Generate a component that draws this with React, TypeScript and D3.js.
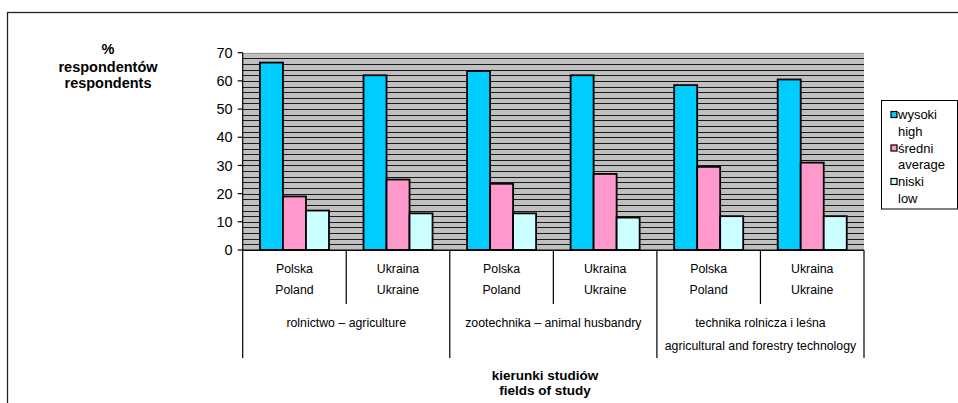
import React from "react";
import * as d3 from "d3";

// categories (country under each field of study)
const countryPl = ["Polska", "Ukraina", "Polska", "Ukraina", "Polska", "Ukraina"];
const countryEn = ["Poland", "Ukraine", "Poland", "Ukraine", "Poland", "Ukraine"];
const fieldPl = ["rolnictwo – agriculture", "zootechnika – animal husbandry", "technika rolnicza i leśna"];
const fieldEn = ["", "", "agricultural and forestry technology"];

// series values (%)
const wysoki = [66.5, 62, 63.5, 62, 58.5, 60.5];
const sredni = [19, 25, 23.5, 27, 29.5, 31];
const niski = [14, 13, 13, 11.5, 12, 12];

const seriesKeys = ["wysoki", "sredni", "niski"];
const seriesLabels = [["wysoki", "high"], ["średni", "average"], ["niski", "low"]];
const seriesColors = ["#00ccff", "#ff99cc", "#ccffff"];
const yTicks = [0, 10, 20, 30, 40, 50, 60, 70];

const FONT = "'Liberation Sans', Arial, Helvetica, sans-serif";

export default function App() {
  const W = 958, H = 403;
  const plot = { left: 242.7, right: 864, top: 52.7, bottom: 250 };

  const catIdx = d3.range(countryPl.length);
  const x = d3.scaleBand<number>().domain(catIdx).range([plot.left, plot.right]).padding(0);
  const xs = d3.scaleBand<string>().domain(seriesKeys).range([0, x.bandwidth()])
    .paddingInner(0).paddingOuter(0.75);
  const y = d3.scaleLinear().domain([0, 70]).range([plot.bottom, plot.top]);

  const values = [wysoki, sredni, niski];
  const gridVals = d3.range(0, 71, 2);
  const groupEdges = d3.range(0, countryPl.length + 1, 2).map(i =>
    i < countryPl.length ? x(i)! : plot.right);

  return (
    <svg width={W} height={H} style={{ position: "absolute", left: 0, top: 0 }}
      fontFamily={FONT}>
      <rect x={0} y={0} width={W} height={H} fill="#fff" />
      {/* outer frame */}
      <rect x={7.5} y={12.5} width={W + 10} height={H + 10} fill="none" stroke="#222" strokeWidth={1.3} />

      {/* plot background + grid */}
      <rect x={plot.left} y={plot.top} width={plot.right - plot.left} height={plot.bottom - plot.top} fill="#c0c0c0" />
      {gridVals.map(v => (
        <line key={v} x1={plot.left} x2={plot.right} y1={Math.round(y(v)) + 0.5} y2={Math.round(y(v)) + 0.5}
          stroke={v === 70 ? "#999" : "#1a1a1a"} strokeWidth={1} />
      ))}

      {/* bars */}
      {catIdx.map(i => (
        <g key={i}>
          {seriesKeys.map((k, s) => (
            <rect key={k} x={x(i)! + xs(k)!} y={y(values[s][i])} width={xs.bandwidth()}
              height={plot.bottom - y(values[s][i])} fill={seriesColors[s]} stroke="#000" strokeWidth={1.8} />
          ))}
        </g>
      ))}

      {/* y axis */}
      <line x1={plot.left} x2={plot.left} y1={plot.top} y2={plot.bottom} stroke="#000" strokeWidth={1.2} />
      {yTicks.map(t => (
        <g key={t}>
          <line x1={plot.left - 5} x2={plot.left} y1={y(t)} y2={y(t)} stroke="#000" strokeWidth={1.2} />
          <text x={plot.left - 10} y={y(t)} dy="0.36em" textAnchor="end" fontSize={14.5}>{t}</text>
        </g>
      ))}

      {/* x axis with two-level categories */}
      <line x1={plot.left} x2={plot.right} y1={plot.bottom} y2={plot.bottom} stroke="#000" strokeWidth={1.2} />
      {catIdx.map(i => (
        <g key={i}>
          {i % 2 === 1 && (
            <line x1={x(i)} x2={x(i)} y1={plot.bottom} y2={304} stroke="#000" strokeWidth={1.2} />
          )}
          <text x={x(i)! + x.bandwidth() / 2} y={269} dy="0.35em" textAnchor="middle" fontSize={12.3}>{countryPl[i]}</text>
          <text x={x(i)! + x.bandwidth() / 2} y={290} dy="0.35em" textAnchor="middle" fontSize={12.3}>{countryEn[i]}</text>
        </g>
      ))}
      {groupEdges.map((gx, j) => (
        <line key={j} x1={gx} x2={gx} y1={plot.bottom} y2={358} stroke="#000" strokeWidth={1.2} />
      ))}
      {fieldPl.map((f, j) => {
        const cx = (groupEdges[j] + groupEdges[j + 1]) / 2;
        return (
          <g key={j}>
            <text x={cx} y={322.7} dy="0.35em" textAnchor="middle" fontSize={12.3}>{f}</text>
            {fieldEn[j] && <text x={cx} y={345.7} dy="0.35em" textAnchor="middle" fontSize={12.3}>{fieldEn[j]}</text>}
          </g>
        );
      })}

      {/* axis titles */}
      <g fontWeight="bold" textAnchor="middle">
        <text x={108} y={49} dy="0.35em" fontSize={14.5}>%</text>
        <text x={108} y={66.5} dy="0.35em" fontSize={14.5}>respondentów</text>
        <text x={108} y={83} dy="0.35em" fontSize={14.5}>respondents</text>
        <text x={545} y={375.5} dy="0.35em" fontSize={13.5}>kierunki studiów</text>
        <text x={545} y={390.5} dy="0.35em" fontSize={13.5}>fields of study</text>
      </g>

      {/* legend */}
      <rect x={881.5} y={100.5} width={76} height={108.5} fill="#fff" stroke="#000" strokeWidth={1} />
      {seriesLabels.map((lab, s) => {
        const ly = 114.5 + s * 33.5;
        return (
          <g key={s}>
            <rect x={891} y={ly - 3} width={6} height={6} fill={seriesColors[s]} stroke="#000" strokeWidth={1.2} />
            <text x={898} y={ly} dy="0.35em" fontSize={13}>{lab[0]}</text>
            <text x={898} y={ly + 16.5} dy="0.35em" fontSize={13}>{lab[1]}</text>
          </g>
        );
      })}
    </svg>
  );
}
